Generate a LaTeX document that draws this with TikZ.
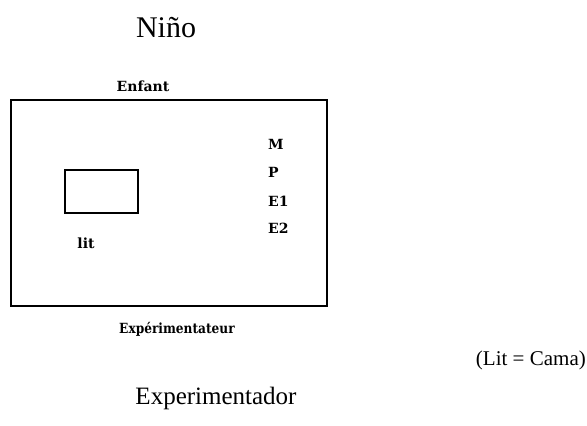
\documentclass[tikz,border=0pt]{standalone}
\usepackage{fontspec}
\setmainfont{Liberation Serif}
\newfontfamily\pixfont{DejaVu Serif}
\tikzset{
  frame/.style={draw, line width=2pt},
  caption/.style={inner sep=0pt, font=\fontsize{25}{28}\selectfont},
  pixlabel/.style={inner sep=0pt, font=\pixfont\bfseries\fontsize{14}{16}\selectfont},
}
\begin{document}
\begin{tikzpicture}[x=1pt,y=-1pt]
\useasboundingbox (0,0) rectangle (587,426);
\node[frame, minimum width=316pt, minimum height=206pt, inner sep=0pt] (room) at (169,203) {};
\node[frame, minimum width=73pt, minimum height=43pt, inner sep=0pt] (bed) at (101.5,191.5) {};
\node[caption, font=\fontsize{30}{32}\selectfont] (nino) at (166,28) {Niño};
\node[pixlabel] (enfant) at (143,86) {Enfant};
\node[pixlabel, anchor=west] (m) at (268,144) {M};
\node[pixlabel, anchor=west] (p) at (268,172) {P};
\node[pixlabel, anchor=west] (e1) at (268,201) {E1};
\node[pixlabel, anchor=west] (e2) at (268,228) {E2};
\node[pixlabel] (lit) at (86,243) {lit};
\node[pixlabel, xscale=0.87] (exp) at (177,329) {Expérimentateur};
\node[caption, font=\fontsize{21}{24}\selectfont, anchor=east] (cama) at (586,360) {(Lit = Cama)};
\node[caption] (experimentador) at (216,398) {Experimentador};
\end{tikzpicture}
\end{document}
